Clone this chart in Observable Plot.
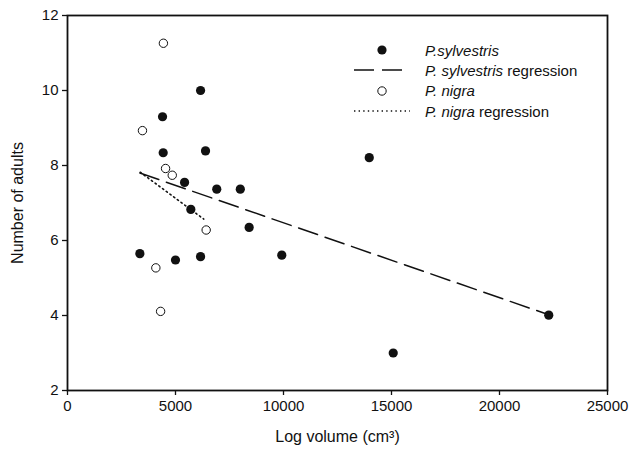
<!DOCTYPE html>
<html>
<head>
<meta charset="utf-8">
<script src="https://cdn.jsdelivr.net/npm/d3@7"></script>
<script src="https://cdn.jsdelivr.net/npm/@observablehq/plot@0.6"></script>
<style>
  body { margin: 0; background: #fff; }
  #wrap { position: relative; width: 630px; height: 451px; font-family: "Liberation Sans", Arial, sans-serif; }
  #legend { position: absolute; left: 352px; top: 40px; font-size: 15px; color: #111; }
  #legend .row { display: flex; align-items: center; height: 20.3px; }
  #legend svg { width: 73px; height: 20px; flex: none; }
  #legend i { font-style: italic; }
</style>
</head>
<body>
<div id="wrap"></div>
<script>
// P. sylvestris observations
const sylvX = [6160, 4400, 4430, 6390, 5420, 6910, 8000, 5710, 3350, 5000, 6160, 8410, 9920, 13970, 15080, 22280];
const sylvY = [10.0, 9.30, 8.34, 8.39, 7.55, 7.37, 7.37, 6.83, 5.65, 5.48, 5.57, 6.35, 5.61, 8.21, 3.0, 4.01];
// P. nigra observations
const nigraX = [4440, 3470, 4540, 4850, 6420, 4090, 4310];
const nigraY = [11.26, 8.93, 7.92, 7.74, 6.28, 5.27, 4.11];
// regression line end points
const sylvRegX = [3350, 22280];
const sylvRegY = [7.80, 4.02];
const nigraRegX = [3370, 6310];
const nigraRegY = [7.82, 6.57];
// axis ticks
const xTicks = [0, 5000, 10000, 15000, 20000, 25000];
const yTicks = [2, 4, 6, 8, 10, 12];

const sylv = sylvX.map((x, i) => ({x, y: sylvY[i]}));
const nigra = nigraX.map((x, i) => ({x, y: nigraY[i]}));
const sylvReg = sylvRegX.map((x, i) => ({x, y: sylvRegY[i]}));
const nigraReg = nigraRegX.map((x, i) => ({x, y: nigraRegY[i]}));

const chart = Plot.plot({
  width: 630,
  height: 451,
  marginLeft: 67,
  marginRight: 23,
  marginTop: 15,
  marginBottom: 61,
  style: {fontFamily: "'Liberation Sans', Arial, sans-serif", fontSize: "15px", color: "#111", background: "#fff"},
  x: {domain: [0, 25000]},
  y: {domain: [2, 12]},
  marks: [
    Plot.frame({stroke: "#111", strokeWidth: 1.8}),
    Plot.axisX({ticks: xTicks, tickSize: 5, tickPadding: 5, tickFormat: d => String(d), fontSize: 15,
      label: "Log volume (cm³)", labelAnchor: "center", labelArrow: "none", labelOffset: 51, strokeWidth: 1.3}),
    Plot.axisY({ticks: yTicks, tickSize: 5, tickPadding: 4, fontSize: 15,
      label: "Number of adults", labelAnchor: "center", labelArrow: "none", labelOffset: 56, strokeWidth: 1.3}),
    Plot.line(sylvReg, {x: "x", y: "y", stroke: "#111", strokeWidth: 1.5, strokeDasharray: "20,8"}),
    Plot.line(nigraReg, {x: "x", y: "y", stroke: "#111", strokeWidth: 1.6, strokeDasharray: "1.4,3.2"}),
    Plot.dot(sylv, {x: "x", y: "y", r: 4.6, fill: "#111", stroke: "none"}),
    Plot.dot(nigra, {x: "x", y: "y", r: 4.2, fill: "#fff", stroke: "#111", strokeWidth: 1})
  ]
});
const wrap = document.getElementById("wrap");
wrap.appendChild(chart);
chart.querySelectorAll("text").forEach(t => { if (t.textContent === "Log volume (cm³)" || t.textContent === "Number of adults") t.setAttribute("font-size", "16"); });

const legend = document.createElement("div");
legend.id = "legend";
legend.innerHTML = `
  <div class="row"><svg><circle cx="30" cy="10" r="4.6" fill="#111"/></svg><span><i>P.sylvestris</i></span></div>
  <div class="row"><svg><line x1="2" y1="10" x2="50" y2="10" stroke="#111" stroke-width="1.5" stroke-dasharray="20,8"/></svg><span><i>P. sylvestris</i> regression</span></div>
  <div class="row"><svg><circle cx="30" cy="10" r="4.2" fill="#fff" stroke="#111" stroke-width="1"/></svg><span><i>P. nigra</i></span></div>
  <div class="row"><svg><line x1="2" y1="10" x2="58" y2="10" stroke="#111" stroke-width="1.6" stroke-dasharray="1.4,3.2"/></svg><span><i>P. nigra</i> regression</span></div>`;
wrap.appendChild(legend);
</script>
</body>
</html>
